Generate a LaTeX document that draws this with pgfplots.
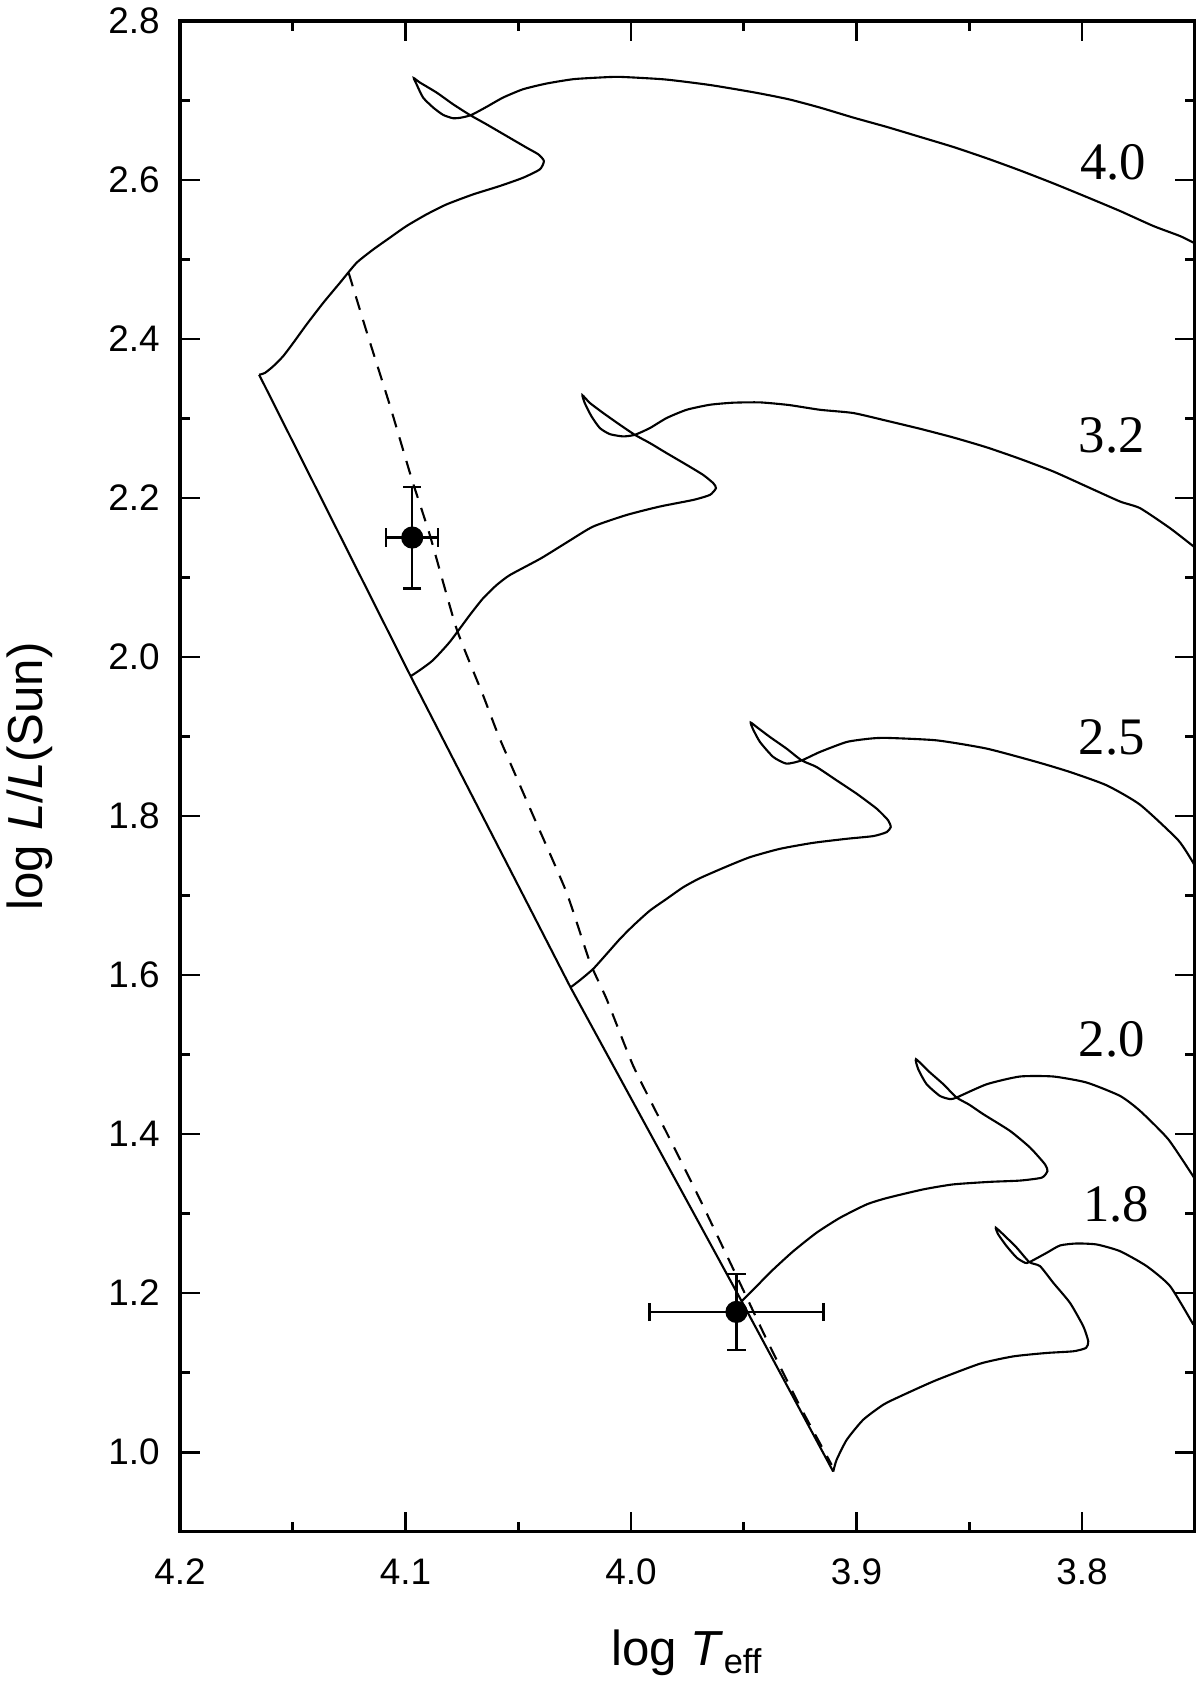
\documentclass[border=0pt]{standalone}
\usepackage{fontspec}
\setmainfont{Liberation Sans}
\newfontfamily\trackfont{Liberation Serif}
\usepackage{pgfplots}
\pgfplotsset{compat=1.18}
\begin{document}
\begin{tikzpicture}
\useasboundingbox (-1.80,-1.514) rectangle (10.197,15.316);
\begin{axis}[
  at={(0,0)}, anchor=south west,
  scale only axis, width=10.147cm, height=15.106cm,
  x dir=reverse, xmin=3.75, xmax=4.2, ymin=0.9, ymax=2.8,
  xtick={3.8,3.9,4.0,4.1,4.2},
  minor xtick={3.85,3.95,4.05,4.15},
  ytick={1.0,1.2,1.4,1.6,1.8,2.0,2.2,2.4,2.6,2.8},
  minor ytick={1.1,1.3,1.5,1.7,1.9,2.1,2.3,2.5,2.7},
  tick align=inside,
  major tick length=0.2cm, minor tick length=0.1cm,
  every tick/.style={black, line width=0.8pt},
  axis line style={line width=0.9pt},
  /pgf/number format/assume math mode=true,
  xticklabel={\pgfmathprintnumber[fixed,fixed zerofill,precision=1]{\tick}},
  yticklabel={\pgfmathprintnumber[fixed,fixed zerofill,precision=1]{\tick}},
  tick label style={font=\fontsize{10.5}{12}\selectfont},
  xticklabel style={yshift=-0.15cm},
  yticklabel style={xshift=-0.08cm},
  xlabel={log \textit{T}\textsubscript{eff}},
  ylabel={log \textit{L}/\textit{L}(Sun)},
  label style={font=\fontsize{14}{16}\selectfont},
  xlabel style={at={(axis description cs:0.5,0)}, anchor=base, yshift=-1.34cm},
  ylabel style={at={(axis description cs:0,0.5)}, anchor=center, yshift=1.5cm},
  clip=true,
  track/.style={black, line width=0.6pt, smooth, tension=0.35},
]
% ZAMS
\addplot[black, line width=0.6pt] coordinates {
(4.1649,2.3551) (4.0977,1.9759) (4.0268,1.5845) (3.9509,1.1897) (3.9103,0.9755)};
% dashed line
\addplot[black, line width=0.6pt, dash pattern=on 4pt off 3pt, smooth, tension=0.3] coordinates {
(4.1252,2.4833) (4.1173,2.4098) (4.1070,2.3173) (4.0971,2.2228) (4.0892,2.1535)
(4.0774,2.0360) (4.0656,1.9520) (4.0582,1.8974) (4.0434,1.8007)
(4.0286,1.7042) (4.0182,1.6161) (4.0108,1.5698) (3.9990,1.4858) (3.9842,1.4019)
(3.9694,1.3178) (3.9517,1.2128) (3.9398,1.1414) (3.9250,1.0574) (3.9110,0.9840)};
% 4.0 track
\addplot[track] coordinates {
(4.1649,2.3551) (4.1624,2.3572) (4.1587,2.3656) (4.1543,2.3782) (4.1498,2.3950)
(4.1439,2.4181) (4.1365,2.4454) (4.1291,2.4706) (4.1217,2.4958) (4.1143,2.5126)
(4.1070,2.5273) (4.0996,2.5420) (4.0907,2.5567) (4.0818,2.5693) (4.0700,2.5819)
(4.0582,2.5924) (4.0478,2.6029) (4.0404,2.6134) (4.0386,2.6239) (4.0411,2.6323)
(4.0463,2.6407) (4.0552,2.6554) (4.0641,2.6701) (4.0715,2.6819) (4.0789,2.6953)
(4.0862,2.7100) (4.0936,2.7226) (4.0963,2.7281) (4.0951,2.7205) (4.0922,2.7037)
(4.0877,2.6911) (4.0833,2.6819) (4.0789,2.6777) (4.0752,2.6785) (4.0707,2.6819)
(4.0641,2.6919) (4.0567,2.7037) (4.0478,2.7142) (4.0375,2.7213) (4.0256,2.7268)
(4.0138,2.7289) (4.0049,2.7297) (3.985,2.7265) (3.965,2.7195) (3.945,2.710)
(3.930,2.7015) (3.9162,2.6911) (3.9014,2.6785) (3.8866,2.6668) (3.8718,2.6542)
(3.8571,2.6416) (3.8422,2.6273) (3.8275,2.6121) (3.8127,2.5958) (3.7979,2.5786)
(3.7831,2.5610) (3.7683,2.5421) (3.7565,2.5295) (3.7500,2.5205)};
% 3.2 track
\addplot[track] coordinates {
(4.0977,1.9759) (4.0937,1.9834) (4.0878,1.9960) (4.0803,2.0192) (4.0715,2.0527)
(4.0656,2.0738) (4.0596,2.0905) (4.0537,2.1031) (4.040,2.124) (4.028,2.145)
(4.0168,2.1641) (4.0019,2.1787) (3.9872,2.1893) (3.9724,2.1976) (3.9650,2.2039)
(3.9623,2.2124) (3.9635,2.2187) (3.9680,2.2291) (3.9753,2.2417) (3.9842,2.2565)
(3.9916,2.2691) (3.9983,2.2795) (4.0049,2.2921) (4.0123,2.3069) (4.0182,2.3195)
(4.0215,2.3292) (4.0205,2.3195) (4.0175,2.3027) (4.0138,2.2880) (4.0094,2.2804)
(4.0035,2.2775) (3.9983,2.2795) (3.9916,2.2880) (3.9842,2.3006) (3.9753,2.3110)
(3.9650,2.3173) (3.9547,2.3199) (3.9428,2.3203) (3.9300,2.3170) (3.9162,2.3110)
(3.9014,2.3069) (3.8866,2.2972) (3.8718,2.2871) (3.8571,2.2762) (3.8422,2.2637)
(3.8275,2.2493) (3.8127,2.2334) (3.7979,2.2145) (3.7831,2.1956) (3.7742,2.1872)
(3.7609,2.1620) (3.7500,2.1380)};
% 2.5 track
\addplot[track] coordinates {
(4.0268,1.5845) (4.0227,1.5934) (4.0168,1.6076) (4.0108,1.6265) (4.0049,1.6454)
(3.9990,1.6622) (3.9916,1.6811) (3.9842,1.6958) (3.9768,1.7105) (3.9694,1.7219)
(3.958,1.736) (3.9472,1.7483) (3.9339,1.7588) (3.9192,1.7663) (3.9043,1.7714)
(3.8925,1.7748) (3.8866,1.7798) (3.8848,1.7861) (3.8859,1.7945) (3.8910,1.8092)
(3.8999,1.8281) (3.9088,1.8449) (3.9177,1.8617) (3.9243,1.8700) (3.9310,1.8848)
(3.9384,1.8995) (3.9443,1.9121) (3.9469,1.9176) (3.9460,1.9100) (3.9428,1.8932)
(3.9369,1.8743) (3.9310,1.8659) (3.9243,1.8700) (3.9162,1.8806) (3.9043,1.8932)
(3.8940,1.8974) (3.8866,1.8983) (3.8644,1.8952) (3.8422,1.8848) (3.8200,1.8680)
(3.8053,1.8554) (3.7890,1.8386) (3.7742,1.8142) (3.7572,1.7693) (3.7500,1.7380)};
% 2.0 track
\addplot[track] coordinates {
(3.9509,1.1897) (3.9443,1.2086) (3.9369,1.2297) (3.9280,1.2527) (3.9177,1.2759)
(3.9073,1.2947) (3.8955,1.3115) (3.8866,1.3195) (3.8704,1.3304) (3.8571,1.3367)
(3.8408,1.3399) (3.8275,1.3415) (3.8178,1.3452) (3.8153,1.3535) (3.8164,1.3620)
(3.8230,1.3830) (3.8319,1.4040) (3.8437,1.4249) (3.8500,1.4370) (3.8556,1.4460)
(3.8615,1.4628) (3.8674,1.4775) (3.8736,1.4942) (3.8726,1.4816) (3.8689,1.4628)
(3.8630,1.4480) (3.8585,1.4440) (3.8556,1.4460) (3.8422,1.4627) (3.8275,1.4724)
(3.8127,1.4724) (3.7979,1.4648) (3.7831,1.4480) (3.7742,1.4291) (3.7617,1.3934)
(3.7500,1.3440)};
% 1.8 track
\addplot[track] coordinates {
(3.9103,0.9755) (3.9088,0.9903) (3.9043,1.0155) (3.8970,1.0407) (3.8881,1.0596)
(3.8807,1.0700) (3.865,1.090) (3.8452,1.1112) (3.8304,1.1204) (3.8156,1.1247)
(3.8038,1.1268) (3.7982,1.1310) (3.7972,1.1393) (3.7994,1.1582) (3.8053,1.1877)
(3.8127,1.2129) (3.8186,1.2339) (3.8233,1.2389) (3.8289,1.2570) (3.8341,1.2716)
(3.8382,1.2822) (3.8371,1.2737) (3.8334,1.2590) (3.8289,1.2444) (3.8252,1.2381)
(3.8233,1.2389) (3.8156,1.2507) (3.8097,1.2599) (3.8023,1.2624) (3.7934,1.2611)
(3.7831,1.2527) (3.7713,1.2339) (3.7609,1.2087) (3.7506,1.1604)};
% observed points with error bars
\addplot[black, only marks, mark=*, mark size=2.85pt, line width=0.6pt,
  error bars/.cd, x dir=both, x explicit, y dir=both, y explicit,
  error bar style={line width=0.6pt},
  error mark options={rotate=90, line width=0.6pt, mark size=2.6pt}]
  coordinates {
  (4.0970,2.1503) +- (0.0116,0.0641)
  (3.9532,1.1763) +- (0.0386,0.0477)};
% track labels
\node[font=\trackfont\fontsize{15}{17}\selectfont] at (axis cs:3.7861,2.622) {4.0};
\node[font=\trackfont\fontsize{15}{17}\selectfont] at (axis cs:3.7868,2.279) {3.2};
\node[font=\trackfont\fontsize{15}{17}\selectfont] at (axis cs:3.7868,1.899) {2.5};
\node[font=\trackfont\fontsize{15}{17}\selectfont] at (axis cs:3.7868,1.519) {2.0};
\node[font=\trackfont\fontsize{15}{17}\selectfont] at (axis cs:3.7848,1.312) {1.8};
\end{axis}
\end{tikzpicture}
\end{document}
